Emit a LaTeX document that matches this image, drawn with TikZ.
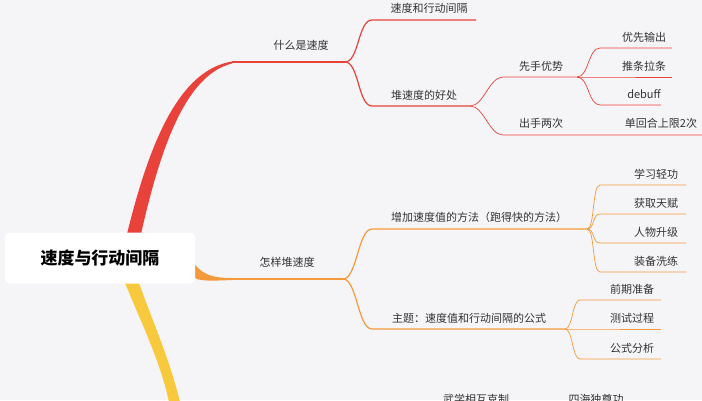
\documentclass[tikz,border=0pt]{standalone}
\usepackage{fontspec}
\setmainfont{Noto Sans CJK SC}
\usetikzlibrary{positioning}
\definecolor{bg}{HTML}{F5F5F8}
\definecolor{rd}{HTML}{E8423A}
\definecolor{og}{HTML}{F39A3C}
\definecolor{yl}{HTML}{F8C93C}
\definecolor{tx}{HTML}{333333}
\tikzset{
  lbl/.style={text=tx, font=\fontsize{11}{13}\selectfont, inner sep=1pt},
  redline/.style={draw=rd, line width=1.2pt},
  orgline/.style={draw=og, line width=1.2pt},
  fine/.style={line width=0.7pt}
}
\begin{document}
\begin{tikzpicture}[x=1pt,y=-1pt]
\fill[bg] (0,0) rectangle (702,400);
\clip (0,0) rectangle (702,400);

% main branches
\fill[rd] (127,234) .. controls (150,140) and (180,70) .. (232,61.5)
  -- (232,63.5) .. controls (185,75) and (160,150) .. (141,234) -- cycle;
\fill[og] (195,265) .. controls (205,276) and (215,278) .. (232,278)
  -- (232,280) .. controls (210,281) and (200,281) .. (195,278) -- cycle;
\fill[yl] (125,283) .. controls (140,320) and (160,360) .. (169,402)
  -- (180,402) .. controls (170,360) and (152,320) .. (139,283) -- cycle;

\node[fill=white, rounded corners=5pt, minimum width=190pt, minimum height=51pt,
  font=\fontsize{17}{20}\selectfont\bfseries] (root) at (100,258) {速度与行动间隔};

% red part
\node[lbl] (speed) at (301,45) {什么是速度};
\coordinate (s0) at (232,62); \coordinate (s1) at (345,62);
\draw[redline] (s0) -- (s1);
\node[lbl] (gap) at (429,8) {速度和行动间隔};
\coordinate (g0) at (372,20); \coordinate (g1) at (476,20);
\draw[redline] (s1) .. controls +(14,0) and +(-14,0) .. (g0) -- (g1);
\node[lbl] (gain) at (424,95) {堆速度的好处};
\coordinate (h0) at (372,106); \coordinate (h1) at (470,106);
\draw[redline] (s1) .. controls +(14,0) and +(-14,0) .. (h0) -- (h1);

\node[lbl] (first) at (541,66) {先手优势};
\coordinate (f0) at (503,77); \coordinate (f1) at (577,77);
\draw[redline, fine] (h1) .. controls +(14,0) and +(-14,0) .. (f0) -- (f1);
\node[lbl] (twice) at (541,123) {出手两次};
\coordinate (t0) at (503,135); \coordinate (t1) at (702,135);
\draw[redline, fine] (h1) .. controls +(14,0) and +(-14,0) .. (t0) -- (t1);
\node[lbl] (limit) at (661,123) {单回合上限2次};

\foreach \y/\txt/\e in {48/优先输出/672, 77/推条拉条/672, 105/debuff/661} {
  \node[lbl] at (644,\y-11) {\txt};
  \draw[redline, fine] (f1) .. controls +(12,0) and +(-12,0) .. (600,\y) -- (\e,\y);
}

% orange part
\node[lbl] (pile) at (287,262) {怎样堆速度};
\coordinate (p0) at (232,279); \coordinate (p1) at (343,279);
\draw[orgline] (p0) -- (p1);
\node[lbl] (method) at (479,217) {增加速度值的方法（跑得快的方法）};
\coordinate (m0) at (372,229); \coordinate (m1) at (587,229);
\draw[orgline] (p1) .. controls +(14,0) and +(-14,0) .. (m0) -- (m1);
\node[lbl] (topic) at (469,318) {主题：速度值和行动间隔的公式};
\coordinate (q0) at (372,329); \coordinate (q1) at (565,329);
\draw[orgline] (p1) .. controls +(14,0) and +(-14,0) .. (q0) -- (q1);

\foreach \y/\txt in {185/学习轻功, 214/获取天赋, 243/人物升级, 272/装备洗练} {
  \node[lbl] at (656,\y-11) {\txt};
  \draw[orgline, fine] (m1) .. controls +(8,0) and +(-8,0) .. (600,\y) -- (686,\y);
}
\foreach \y/\txt in {300/前期准备, 329/测试过程, 359/公式分析} {
  \node[lbl] at (632,\y-11) {\txt};
  \draw[orgline, fine] (q1) .. controls +(8,0) and +(-8,0) .. (580,\y) -- (661,\y);
}

% yellow part (cut off)
\node[lbl] (wuxue) at (476,399) {武学相互克制};
\node[lbl] (sihai) at (596,399) {四海独尊功};
\end{tikzpicture}
\end{document}
